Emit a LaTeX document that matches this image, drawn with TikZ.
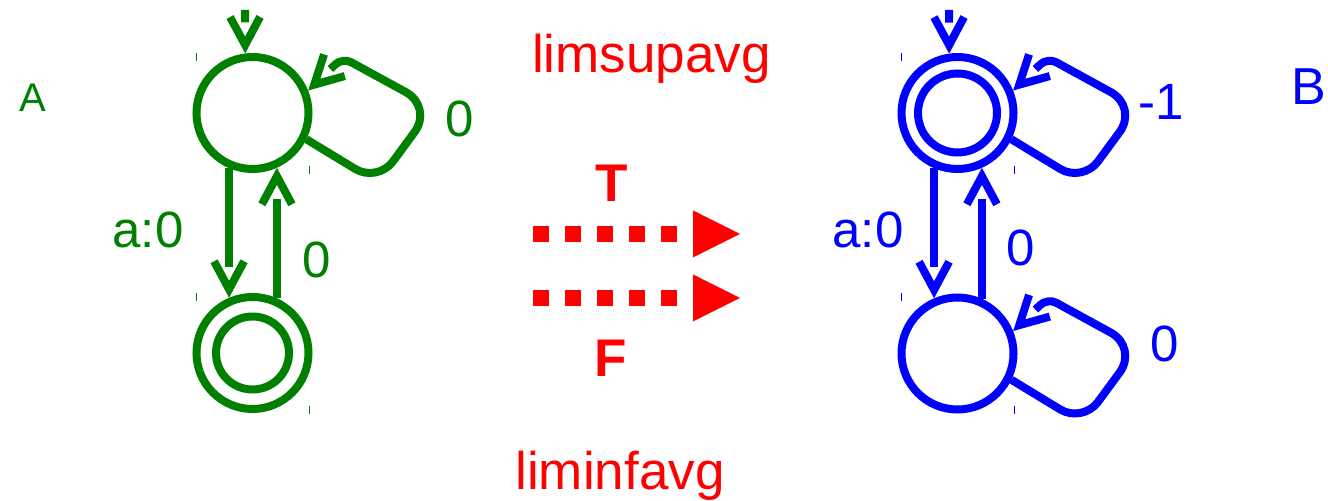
\documentclass[tikz,border=0pt]{standalone}
\usepackage{fontspec}
\setmainfont{Liberation Sans}
\usetikzlibrary{arrows.meta}
\definecolor{agreen}{RGB}{0,128,0}
\definecolor{bblue}{RGB}{0,0,255}
\definecolor{rred}{RGB}{255,0,0}
\begin{document}
\begin{tikzpicture}[x=0.5pt,y=-0.5pt,
  st/.style={circle, draw, line width=4pt, minimum size=56pt, inner sep=0pt},
  trans/.style={line width=4pt, dash pattern=on 0pt off 2000pt, line cap=butt,
     -{Straight Barb[length=14pt,width=15pt]},
     postaction={draw, solid, -, shorten >=15.5pt}},
  lbl/.style={font=\fontsize{25.5}{30}\selectfont, inner sep=0pt, anchor=base},
  big/.style={font=\fontsize{26.5}{30}\selectfont, inner sep=0pt, anchor=base},
  tk/.style={line width=0.5pt},
  tarrow/.style={rred, line width=8pt, dash pattern=on 8pt off 8pt,
     -{Triangle[length=23.5pt,width=23.5pt,line width=0pt]}},
]
\useasboundingbox (0,0) rectangle (1328,501);

% ---------- automaton A ----------
\node[st, agreen] (a1) at (252.5,113) {};
\node[st, agreen] (a2) at (252.5,353) {};
\draw[agreen, line width=4pt] (a2.center) circle[radius=18.25pt];
\coordinate (ia) at (245,10);
\draw[trans, agreen] (ia) -- (a1.97.2);
\draw[trans, agreen] (a1.-113.6) -- (a2.113.6);
\draw[trans, agreen] (a2.66.4) -- (a1.-66.4);
\draw[trans, agreen] (a1.-26)
  [rounded corners=13pt] -- ([shift={(125,69.5)}]a1.center)
  [rounded corners=15.5pt] -- ([shift={(180.5,-6)}]a1.center)
  [rounded corners=5pt] -- ([shift={(90,-55.5)}]a1.center) -- (a1.22);
\foreach \n in {a1,a2}{
  \draw[tk, agreen] ([shift={(-56,-60)}]\n.center) -- ++(0,8);
  \draw[tk, agreen] ([shift={(56.5,53)}]\n.center) -- ++(0,8);
}
\node[agreen, font=\fontsize{20}{24}\selectfont, inner sep=0pt, anchor=base] (la) at (32.5,112) {A};
\node[lbl, agreen] (l1) at (148,248) {a:0};
\node[lbl, agreen] (l2) at (316.5,278) {0};
\node[lbl, agreen] (l3) at (459.5,137) {0};

% ---------- automaton B ----------
\node[st, bblue] (b1) at (957.5,113) {};
\node[st, bblue] (b2) at (957.5,353.5) {};
\draw[bblue, line width=4pt] (b1.center) circle[radius=19.75pt];
\coordinate (ib) at (949,10);
\draw[trans, bblue] (ib) -- (b1.98.1);
\draw[trans, bblue] (b1.-113.6) -- (b2.113.6);
\draw[trans, bblue] (b2.66.4) -- (b1.-66.4);
\foreach \n in {b1,b2}{
  \draw[trans, bblue] (\n.-26)
    [rounded corners=13pt] -- ([shift={(125,69.5)}]\n.center)
    [rounded corners=15.5pt] -- ([shift={(180.5,-6)}]\n.center)
    [rounded corners=5pt] -- ([shift={(90,-55.5)}]\n.center) -- (\n.22);
  \draw[tk, bblue] ([shift={(-56,-60)}]\n.center) -- ++(0,8);
  \draw[tk, bblue] ([shift={(56.5,53)}]\n.center) -- ++(0,8);
}
\node[bblue, font=\fontsize{26}{30}\selectfont, inner sep=0pt, anchor=base] (lb) at (1308.5,105) {B};
\node[lbl, bblue] (m1) at (868,248) {a:0};
\node[lbl, bblue] (m2) at (1021,266) {0};
\node[lbl, bblue] (m3) at (1161.5,120) {-1};
\node[lbl, bblue] (m4) at (1164.5,362) {0};

% ---------- middle ----------
\node[big, rred] (sup) at (651.5,73) {limsupavg};
\node[big, rred] (inf) at (620,490) {liminfavg};
\node[big, rred, font=\fontsize{26.5}{30}\selectfont\bfseries] (tt) at (612,202) {T};
\node[big, rred, font=\fontsize{26.5}{30}\selectfont\bfseries] (ff) at (611,377) {F};
\coordinate (t1) at (533,234);
\coordinate (t2) at (740,234);
\coordinate (f1) at (533,298);
\coordinate (f2) at (740,298);
\draw[tarrow] (t1) -- (t2);
\draw[tarrow] (f1) -- (f2);
\end{tikzpicture}
\end{document}
